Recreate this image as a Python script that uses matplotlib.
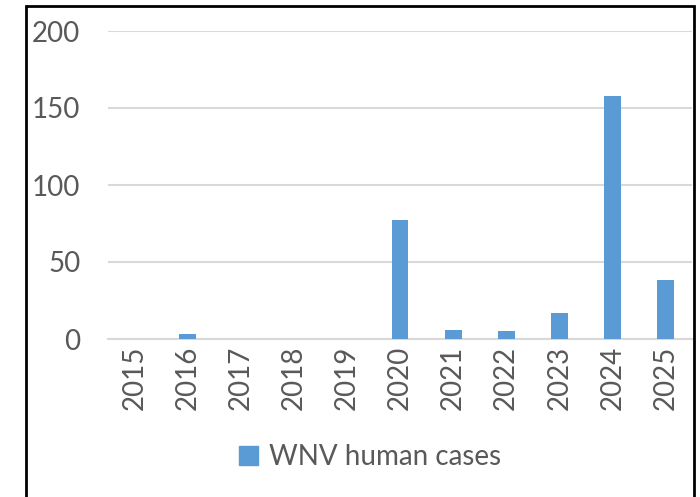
import matplotlib
matplotlib.use("Agg")
import matplotlib.pyplot as plt
from matplotlib.patches import Rectangle, Patch

years = ["2015", "2016", "2017", "2018", "2019", "2020", "2021", "2022", "2023", "2024", "2025"]
cases = [0, 3, 0, 0, 0, 77, 6, 5, 17, 158, 38]
yticks = [0, 50, 100, 150, 200]
series_name = "WNV human cases"

bar_color = "#5b9bd5"
text_color = "#595959"
grid_color = "#d9d9d9"
font = ["Lato", "DejaVu Sans"]

fig = plt.figure(figsize=(7, 4.97), dpi=100)
ax = fig.add_axes([108/700, 1-339/497, (692-108)/700, (339-31)/497])

x = list(range(len(years)))
ax.bar(x, cases, width=0.32, color=bar_color, zorder=3)
ax.set_xlim(-0.5, len(years)-0.5)
ax.set_ylim(0, 200)
ax.set_yticks(yticks)
ax.set_yticklabels([str(v) for v in yticks], fontsize=20, color=text_color, family=font)
ax.set_xticks(x)
ax.set_xticklabels(years, rotation=90, fontsize=20, color=text_color, family=font)
ax.tick_params(axis="y", length=0, pad=20)
ax.tick_params(axis="x", length=0, pad=5)
ax.grid(axis="y", color=grid_color, linewidth=1.5, zorder=0)
for s in ["top", "right", "left"]:
    ax.spines[s].set_visible(False)
ax.spines["bottom"].set_color(grid_color)
ax.spines["bottom"].set_linewidth(1.5)

leg = fig.legend(handles=[Patch(color=bar_color, label=series_name)],
                 loc="center", bbox_to_anchor=(370/700, 1-457/497), frameon=False,
                 prop={"family": font, "size": 20}, handlelength=0.7, handleheight=0.7,
                 handletextpad=0.4)
for t in leg.get_texts():
    t.set_color(text_color)

fig.patches.append(Rectangle((26/700, -0.05), (694-26)/700, 1.05-6/497, transform=fig.transFigure,
                             fill=False, edgecolor="black", linewidth=2, clip_on=False))

fig.savefig("out.png", dpi=100, facecolor="white")
